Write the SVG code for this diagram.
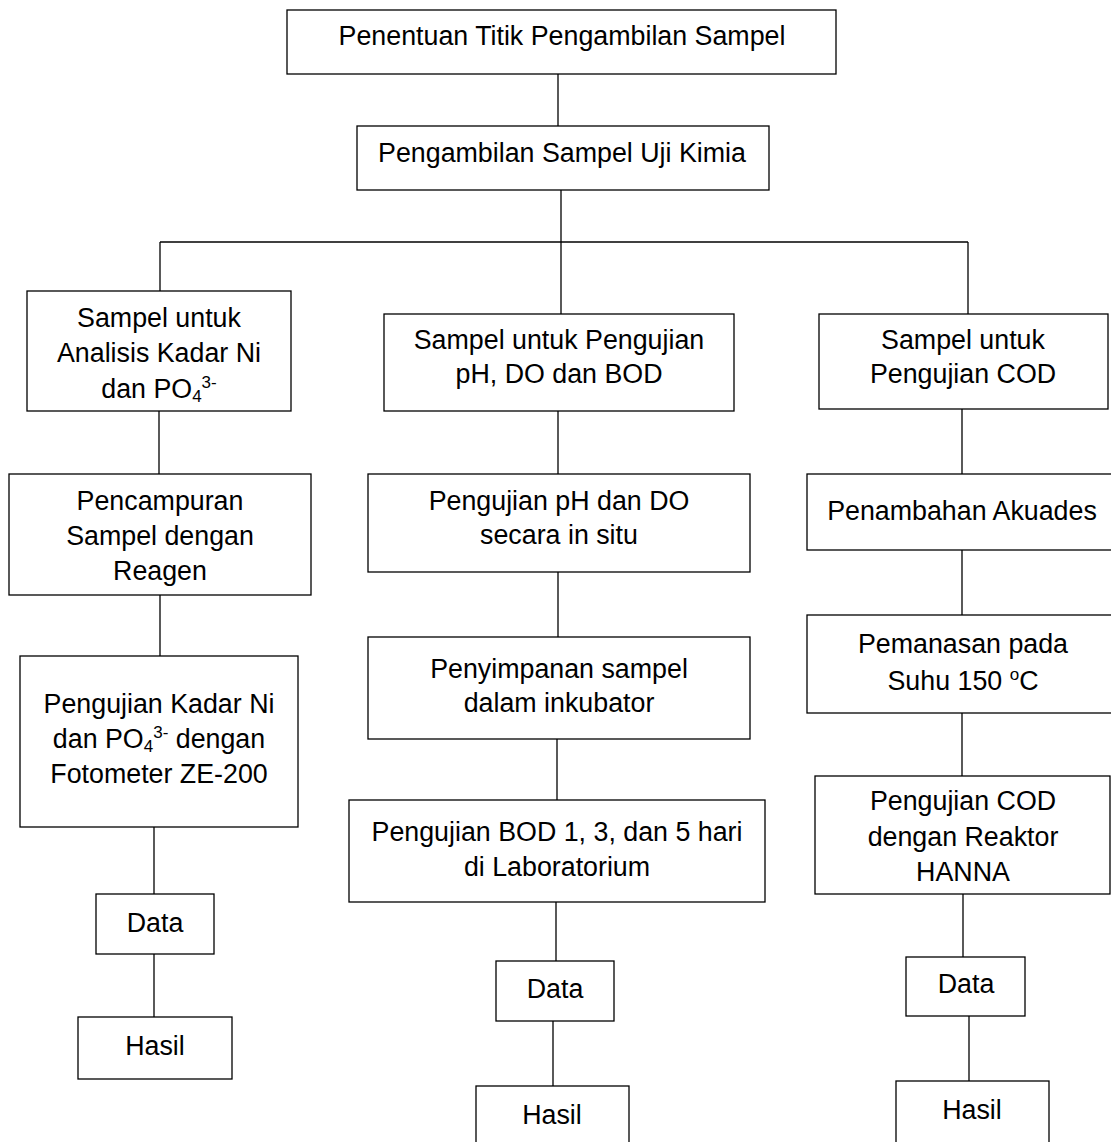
<svg xmlns="http://www.w3.org/2000/svg" width="1111" height="1142" viewBox="0 0 1111 1142">
<style>
rect{fill:#fff;stroke:#000;stroke-width:1.3}
line{stroke:#000;stroke-width:1.3}
text{font-family:"Liberation Sans",Arial,sans-serif;font-size:26.8px;fill:#000;text-anchor:middle}
.s{font-size:17px}
</style>
<rect x="0" y="0" width="1111" height="1142" style="stroke:none"/>
<g id="connectors">
<line x1="558" y1="74" x2="558" y2="126"/>
<line x1="561" y1="190" x2="561" y2="242"/>
<line x1="160" y1="242" x2="968" y2="242"/>
<line x1="160" y1="242" x2="160" y2="291"/>
<line x1="561" y1="242" x2="561" y2="314"/>
<line x1="968" y1="242" x2="968" y2="314"/>
<line x1="159" y1="411" x2="159" y2="474"/>
<line x1="160" y1="595" x2="160" y2="656"/>
<line x1="154" y1="827" x2="154" y2="894"/>
<line x1="154" y1="954" x2="154" y2="1017"/>
<line x1="558" y1="411" x2="558" y2="474"/>
<line x1="558" y1="572" x2="558" y2="637"/>
<line x1="557" y1="739" x2="557" y2="800"/>
<line x1="556" y1="902" x2="556" y2="961"/>
<line x1="553" y1="1021" x2="553" y2="1086"/>
<line x1="962" y1="409" x2="962" y2="474"/>
<line x1="962" y1="550" x2="962" y2="615"/>
<line x1="962" y1="713" x2="962" y2="776"/>
<line x1="963" y1="894" x2="963" y2="957"/>
<line x1="969" y1="1016" x2="969" y2="1081"/>
</g>
<g id="n1"><rect x="287" y="10" width="549" height="64"/><text x="562" y="45">Penentuan Titik Pengambilan Sampel</text></g>
<g id="n2"><rect x="357" y="126" width="412" height="64"/><text x="562" y="162">Pengambilan Sampel Uji Kimia</text></g>
<g id="l1"><rect x="27" y="291" width="264" height="120"/>
<text x="159" y="327">Sampel untuk</text>
<text x="159" y="362">Analisis Kadar Ni</text>
<text x="159" y="398">dan PO<tspan class="s" dy="4">4</tspan><tspan class="s" dy="-14">3-</tspan></text></g>
<g id="l2"><rect x="9" y="474" width="302" height="121"/>
<text x="160" y="510">Pencampuran</text>
<text x="160" y="545">Sampel dengan</text>
<text x="160" y="580">Reagen</text></g>
<g id="l3"><rect x="20" y="656" width="278" height="171"/>
<text x="159" y="713">Pengujian Kadar Ni</text>
<text x="159" y="748">dan PO<tspan class="s" dy="4">4</tspan><tspan class="s" dy="-14">3-</tspan><tspan dy="10"> dengan</tspan></text>
<text x="159" y="783">Fotometer ZE-200</text></g>
<g id="l4"><rect x="96" y="894" width="118" height="60"/><text x="155" y="932">Data</text></g>
<g id="l5"><rect x="78" y="1017" width="154" height="62"/><text x="155" y="1055">Hasil</text></g>
<g id="m1"><rect x="384" y="314" width="350" height="97"/>
<text x="559" y="349">Sampel untuk Pengujian</text>
<text x="559" y="383">pH, DO dan BOD</text></g>
<g id="m2"><rect x="368" y="474" width="382" height="98"/>
<text x="559" y="510">Pengujian pH dan DO</text>
<text x="559" y="544">secara in situ</text></g>
<g id="m3"><rect x="368" y="637" width="382" height="102"/>
<text x="559" y="678">Penyimpanan sampel</text>
<text x="559" y="712">dalam inkubator</text></g>
<g id="m4"><rect x="349" y="800" width="416" height="102"/>
<text x="557" y="841">Pengujian BOD 1, 3, dan 5 hari</text>
<text x="557" y="876">di Laboratorium</text></g>
<g id="m5"><rect x="496" y="961" width="118" height="60"/><text x="555" y="998">Data</text></g>
<g id="m6"><rect x="476" y="1086" width="153" height="70"/><text x="552" y="1124">Hasil</text></g>
<g id="r1"><rect x="819" y="314" width="289" height="95"/>
<text x="963" y="349">Sampel untuk</text>
<text x="963" y="383">Pengujian COD</text></g>
<g id="r2"><rect x="807" y="474" width="310" height="76"/>
<text x="962" y="520">Penambahan Akuades</text></g>
<g id="r3"><rect x="807" y="615" width="310" height="98"/>
<text x="963" y="653">Pemanasan pada</text>
<text x="963" y="690">Suhu 150 <tspan class="s" dy="-10">o</tspan><tspan dy="10">C</tspan></text></g>
<g id="r4"><rect x="815" y="776" width="295" height="118"/>
<text x="963" y="810">Pengujian COD</text>
<text x="963" y="846">dengan Reaktor</text>
<text x="963" y="881">HANNA</text></g>
<g id="r5"><rect x="906" y="957" width="119" height="59"/><text x="966" y="993">Data</text></g>
<g id="r6"><rect x="896" y="1081" width="153" height="75"/><text x="972" y="1119">Hasil</text></g>
</svg>
